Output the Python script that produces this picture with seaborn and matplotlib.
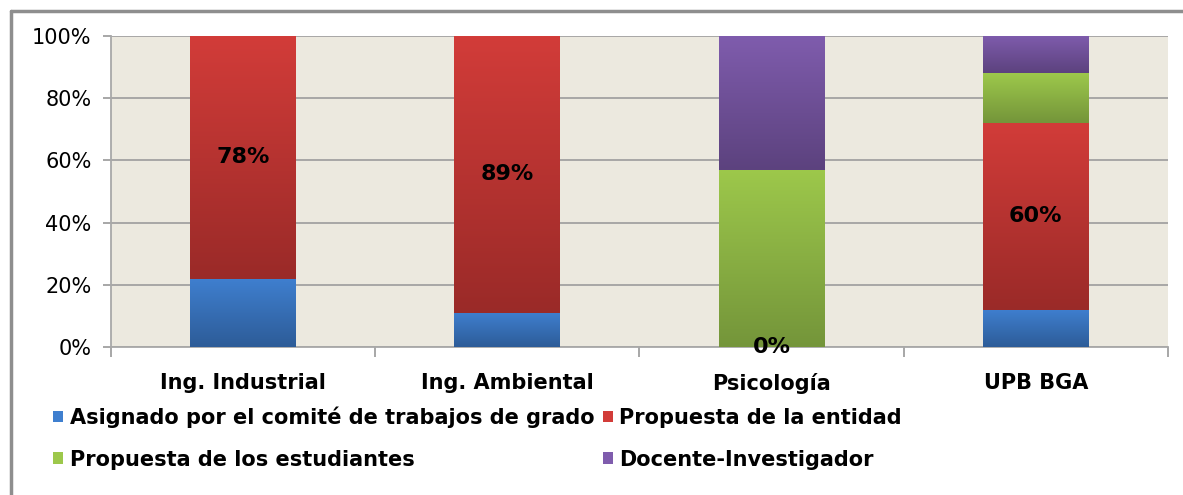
import numpy as np
import pandas as pd
import matplotlib
matplotlib.use("Agg")
import matplotlib.pyplot as plt
import seaborn as sns
from matplotlib.patches import Patch
from matplotlib.lines import Line2D
from matplotlib.colors import LinearSegmentedColormap

# data (percent)
programas = ["Ing. Industrial", "Ing. Ambiental", "Psicología", "UPB BGA"]
asignado = [22, 11, 0, 12]
entidad = [78, 89, 0, 60]
estudiantes = [0, 0, 57, 16]
docente = [0, 0, 43, 12]

series = ["Asignado por el comité de trabajos de grado", "Propuesta de la entidad",
          "Propuesta de los estudiantes", "Docente-Investigador"]
values = [asignado, entidad, estudiantes, docente]
# (top colour, bottom colour) for the excel-like gradient
grad = [("#3F7FCF", "#2D5C98"), ("#D23C39", "#9A2A28"),
        ("#9DC84B", "#74953A"), ("#7F5CAD", "#5C427E")]

sns.set_theme(style="white")
plt.rcParams["font.family"] = ["DejaVu Sans"]
plt.rcParams["text.color"] = "black"
plt.rcParams["xtick.labelcolor"] = "black"
plt.rcParams["ytick.labelcolor"] = "black"

fig = plt.figure(figsize=(11.83, 4.95), dpi=100)
ax = fig.add_axes([0.0938, 0.299, 0.8935, 0.628])
ax.set_facecolor("#ECE9DF")

df = pd.DataFrame({"programa": programas})
cum = np.zeros(len(programas))
bottoms = []
for name, v in zip(series, values):
    bottoms.append(cum.copy())
    cum = cum + np.array(v)
    df[name] = cum.copy()

# draw from the tallest cumulative layer to the smallest
for i in range(len(series) - 1, -1, -1):
    sns.barplot(data=df, x="programa", y=series[i], ax=ax, color=grad[i][0],
                width=0.4, zorder=3, linewidth=0)

# containers were added in reverse order
containers = ax.containers[::-1]
for i, cont in enumerate(containers):
    cmap = LinearSegmentedColormap.from_list("g%d" % i, [grad[i][1], grad[i][0]])
    for j, p in enumerate(cont.patches):
        b = bottoms[i][j]
        h = values[i][j]
        p.set_y(b)
        p.set_height(h)
        p.set_facecolor("none")
        if h <= 0:
            continue
        x0 = p.get_x()
        w = p.get_width()
        g = np.linspace(0, 1, 256).reshape(-1, 1)
        im = ax.imshow(g, cmap=cmap, origin="lower", aspect="auto",
                       extent=[x0, x0 + w, b, b + h], zorder=3)
        im.set_clip_path(p)

ax.bar_label(containers[1], labels=["%d%%" % v for v in entidad], label_type="center",
             fontsize=16, fontweight="bold", color="black", zorder=5)

ax.set_xlim(-0.5, len(programas) - 0.5)
ax.set_ylim(0, 100)
ax.set_yticks(np.arange(0, 101, 20))
ax.set_yticklabels(["%d%%" % t for t in range(0, 101, 20)], fontsize=15)
ax.set_xticks(range(len(programas)))
ax.set_xticklabels(programas, fontsize=15, fontweight="bold")
ax.set_xticks(np.arange(-0.5, len(programas), 1), minor=True)
ax.tick_params(axis="x", which="major", length=0, pad=19)
ax.tick_params(axis="x", which="minor", length=7, color="#A0A0A0", width=1.3, direction="out", bottom=True)
ax.tick_params(axis="y", length=6, color="#A0A0A0", width=1.3, direction="out", left=True, pad=8)
ax.set_xlabel("")
ax.set_ylabel("")
ax.yaxis.grid(True, color="#9C9C9C", linewidth=1.2, zorder=1)
ax.set_axisbelow(True)
for s in ["top", "right"]:
    ax.spines[s].set_visible(False)
for s in ["left", "bottom"]:
    ax.spines[s].set_color("#A8A8A8")
    ax.spines[s].set_linewidth(1.3)

handles = [Patch(facecolor=grad[i][0], edgecolor="none") for i in [0, 2, 1, 3]]
labels = [series[i] for i in [0, 2, 1, 3]]
fig.legend(handles, labels, ncol=2, loc="upper left", bbox_to_anchor=(0.036, 0.2),
           frameon=False, handlelength=0.5, handleheight=0.5, handletextpad=0.3,
           columnspacing=0.4, labelspacing=1.05, borderpad=0,
           prop={"size": 15, "weight": "bold"})

# outer chart frame (only left and top visible in the crop)
fig.add_artist(Line2D([11 / 1183, 11 / 1183], [0, 1 - 11 / 495], color="#8E8E8E", linewidth=2.5))
fig.add_artist(Line2D([11 / 1183, 1], [1 - 11 / 495, 1 - 11 / 495], color="#8E8E8E", linewidth=2.5))

fig.savefig("out.png", dpi=100, facecolor="white")
